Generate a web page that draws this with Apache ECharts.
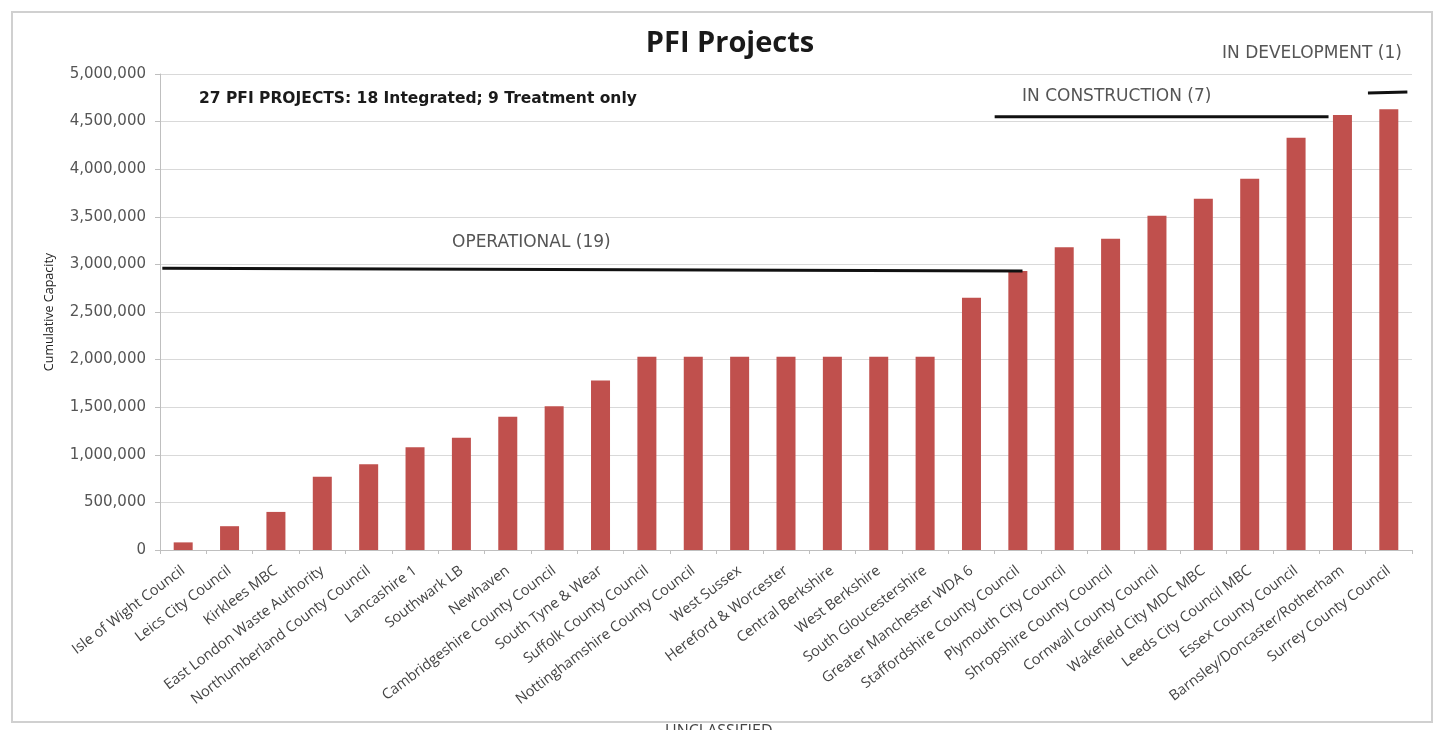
<!DOCTYPE html>
<html>
<head>
<meta charset="utf-8">
<script src="https://cdn.jsdelivr.net/npm/echarts@6/dist/echarts.min.js"></script>
<style>
html, body { margin: 0; padding: 0; background: #fff; }
#chart { width: 1438px; height: 730px; }
</style>
</head>
<body>
<div id="chart"></div>
<script>
var projects = [
  "Isle of Wight Council", "Leics City Council", "Kirklees MBC", "East London Waste Authority",
  "Northumberland County Council", "Lancashire 1", "Southwark LB", "Newhaven",
  "Cambridgeshire County Council", "South Tyne & Wear", "Suffolk County Council",
  "Nottinghamshire County Council", "West Sussex", "Hereford & Worcester", "Central Berkshire",
  "West Berkshire", "South Gloucestershire", "Greater Manchester WDA 6",
  "Staffordshire County Council", "Plymouth City Council", "Shropshire County Council",
  "Cornwall County Council", "Wakefield City MDC MBC", "Leeds City Council MBC",
  "Essex County Council", "Barnsley/Doncaster/Rotherham", "Surrey County Council"
];
var capacity = [
  80000, 250000, 400000, 770000, 900000, 1080000, 1180000, 1400000,
  1510000, 1780000, 2030000, 2030000, 2030000, 2030000, 2030000,
  2030000, 2030000, 2650000, 2930000, 3180000, 3270000,
  3510000, 3690000, 3900000, 4330000, 4570000, 4630000
];
// stage brackets: [start, end] in category units, height in capacity units
var operational = [[-0.45, 18.1], [2960000, 2930000]];
var construction = [[17.5, 24.7], [4550000, 4550000]];
var development = [[25.55, 26.4], [4800000, 4810000]];

var chart = echarts.init(document.getElementById("chart"));
var wide = "'Open Sans', sans-serif";
var note = "'DejaVu Sans', sans-serif";

function bracket(name, s) {
  return {
    name: name,
    type: "line",
    xAxisIndex: 1,
    symbol: "none",
    silent: true,
    lineStyle: { color: "#111", width: 3 },
    data: [[s[0][0], s[1][0]], [s[0][1], s[1][1]]],
    z: 5
  };
}

chart.setOption({
  animation: false,
  title: {
    text: "PFI Projects",
    left: 725,
    top: 24,
    textAlign: "center",
    textStyle: { fontFamily: wide, fontSize: 29, fontWeight: "bold", color: "#1a1a1a" }
  },
  grid: { left: 160, right: 26, top: 74, bottom: 180 },
  xAxis: [
    {
      type: "category",
      data: projects,
      axisLine: { lineStyle: { color: "#bfbfbf" } },
      axisTick: { show: true, length: 4, lineStyle: { color: "#bfbfbf" } },
      axisLabel: {
        interval: 0,
        rotate: 37,
        fontFamily: wide,
        fontSize: 14.5,
        color: "#444",
        margin: 19
      }
    },
    {
      type: "value",
      min: -0.5,
      max: 26.5,
      show: false
    }
  ],
  yAxis: {
    type: "value",
    min: 0,
    max: 5000000,
    interval: 500000,
    name: "Cumulative Capacity",
    nameLocation: "middle",
    nameGap: 104,
    nameTextStyle: { fontFamily: wide, fontSize: 12.5, color: "#222" },
    axisLine: { show: true, onZero: false, lineStyle: { color: "#bfbfbf" } },
    axisTick: { show: true, length: 5, lineStyle: { color: "#bfbfbf" } },
    splitLine: { lineStyle: { color: "#d9d9d9" } },
    axisLabel: {
      fontFamily: note,
      fontSize: 15,
      color: "#555",
      margin: 14,
      formatter: function (v) { return v.toLocaleString("en-US"); }
    }
  },
  series: [
    {
      name: "Cumulative Capacity",
      type: "bar",
      data: capacity,
      barWidth: 19,
      itemStyle: { color: "#c0504d" }
    },
    bracket("Operational", operational),
    bracket("In construction", construction),
    bracket("In development", development)
  ],
  graphic: [
    {
      type: "rect",
      shape: { x: 12, y: 12, width: 1420, height: 710 },
      style: { fill: "none", stroke: "#d0d0d0", lineWidth: 2 },
      silent: true
    },
    {
      type: "text",
      left: 199,
      top: 91,
      style: { text: "27 PFI PROJECTS: 18 Integrated; 9 Treatment only", fontFamily: note, fontSize: 15.5, fontWeight: "bold", fill: "#1a1a1a" }
    },
    {
      type: "text",
      left: 452,
      top: 234,
      style: { text: "OPERATIONAL (19)", fontFamily: note, fontSize: 17, fill: "#555" }
    },
    {
      type: "text",
      left: 1022,
      top: 88,
      style: { text: "IN CONSTRUCTION (7)", fontFamily: note, fontSize: 17, fill: "#555" }
    },
    {
      type: "text",
      left: 1222,
      top: 45,
      style: { text: "IN DEVELOPMENT (1)", fontFamily: note, fontSize: 17, fill: "#555" }
    },
    {
      type: "text",
      left: 665,
      top: 723,
      style: { text: "UNCLASSIFIED", fontFamily: wide, fontSize: 16, fill: "#444" }
    }
  ]
});
</script>
</body>
</html>
